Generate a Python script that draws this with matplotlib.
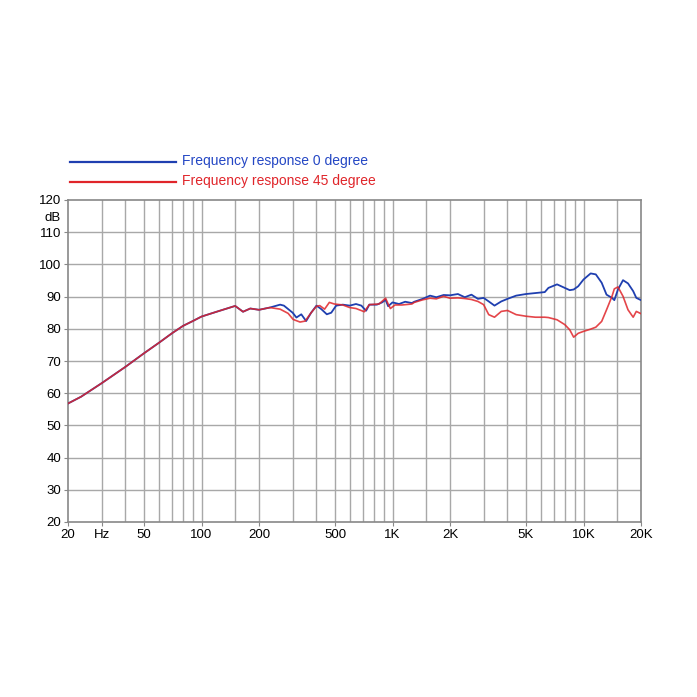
import matplotlib
matplotlib.use("Agg")
import matplotlib.pyplot as plt
from matplotlib.lines import Line2D
import numpy as np

plt.rcParams['font.family'] = ['Liberation Sans', 'DejaVu Sans']

# Shared low-frequency part (both curves identical)
freq_low = [20, 23.4, 30, 40, 50, 60, 70, 80, 90, 100, 120, 150, 165, 180, 200]
db_low = [56.8, 58.9, 63.1, 68.2, 72.4, 75.7, 78.6, 80.9, 82.4, 83.8, 85.3, 87.1, 85.3, 86.3, 85.9]

freq_0 = [228, 258, 270, 300, 314, 333, 353, 375, 400, 424, 453, 478, 507, 549, 597, 644, 687,
          727, 756, 828, 882, 920, 949, 1000, 1082, 1165, 1263, 1300, 1440, 1572, 1696, 1852,
          2000, 2200, 2390, 2590, 2800, 3000, 3190, 3420, 3710, 4000, 4440, 5000, 5600, 6270,
          6550, 7270, 7980, 8470, 8880, 9380, 10000, 10900, 11600, 12450, 13200, 14100, 14500,
          15150, 16100, 17100, 18200, 18900, 20000]
db_0 = [86.6, 87.5, 87.2, 85.0, 83.5, 84.5, 82.4, 85.0, 87.2, 86.1, 84.5, 85.0, 87.2, 87.5, 87.2,
        87.7, 87.2, 85.6, 87.5, 87.5, 88.2, 89.0, 87.0, 88.2, 87.7, 88.4, 88.0, 88.4, 89.3, 90.3,
        89.8, 90.5, 90.4, 90.8, 89.8, 90.6, 89.3, 89.6, 88.5, 87.2, 88.5, 89.3, 90.3, 90.8, 91.1,
        91.4, 92.7, 93.8, 92.7, 92.0, 92.2, 93.2, 95.3, 97.2, 96.9, 94.3, 90.6, 89.6, 88.9, 92.2,
        95.1, 94.1, 91.7, 89.6, 88.9]

freq_45 = [228, 258, 284, 302, 328, 349, 375, 400, 416, 441, 467, 496, 549, 597, 644, 712, 756,
           850, 920, 949, 975, 1030, 1120, 1263, 1300, 1440, 1572, 1696, 1852, 2000, 2200, 2390,
           2590, 2800, 3000, 3190, 3420, 3710, 4000, 4440, 5000, 5600, 6270, 6550, 7270, 7980,
           8470, 8880, 9380, 10000, 10900, 11600, 12450, 13200, 14100, 14500, 15150, 16100,
           17100, 18200, 18900, 20000]
db_45 = [86.6, 86.1, 84.8, 82.9, 82.1, 82.4, 85.0, 87.0, 87.2, 86.1, 88.2, 87.7, 87.4, 86.6, 86.3,
         85.3, 87.5, 87.7, 89.5, 87.7, 86.3, 87.4, 87.4, 87.7, 88.2, 89.0, 89.5, 89.3, 90.1, 89.5,
         89.6, 89.4, 89.1, 88.5, 87.5, 84.4, 83.6, 85.4, 85.7, 84.4, 83.9, 83.6, 83.6, 83.5, 82.8,
         81.3, 79.7, 77.4, 78.6, 79.2, 79.9, 80.5, 82.3, 85.9, 90.1, 92.4, 93.0, 90.1, 85.9, 83.6,
         85.4, 84.7]

grid_freqs = [30, 40, 50, 60, 70, 80, 90, 100, 150, 200, 300, 400, 500, 600, 700, 800, 900,
              1000, 1500, 2000, 3000, 4000, 5000, 6000, 7000, 8000, 9000, 10000, 15000]
xtick_pos = [20, 30, 50, 100, 200, 500, 1000, 2000, 5000, 10000, 20000]
xtick_labels = ['20', 'Hz', '50', '100', '200', '500', '1K', '2K', '5K', '10K', '20K']
ytick_pos = [20, 30, 40, 50, 60, 70, 80, 90, 100, 110, 120]

blue = '#1f3fb0'
red = '#e0252a'

fig = plt.figure(figsize=(6.97, 6.97), dpi=100)
ax = fig.add_axes([68/697, 175/697, 573/697, 322/697])

ax.set_xscale('log')
ax.set_xlim(20, 20000)
ax.set_ylim(20, 120)

for f in grid_freqs:
    ax.axvline(f, color='#a8a8a8', lw=1.0, zorder=1)
for y in ytick_pos[1:-1]:
    ax.axhline(y, color='#a8a8a8', lw=1.0, zorder=1)

x0 = freq_low + freq_0
y0 = db_low + db_0
x45 = freq_low + freq_45
y45 = db_low + db_45
ax.plot(x0, y0, color=blue, lw=1.3, zorder=3)
ax.plot(x45, y45, color=red, lw=1.2, alpha=0.85, zorder=4)

ax.set_xticks(xtick_pos)
ax.set_xticklabels(xtick_labels)
ax.xaxis.set_minor_locator(matplotlib.ticker.NullLocator())
ax.set_yticks(ytick_pos)
ax.set_yticklabels([str(v) for v in ytick_pos])
ax.tick_params(axis='both', length=3, color='#888888', labelsize=9.5, pad=2)

for s in ax.spines.values():
    s.set_color('#888888')
    s.set_linewidth(1.2)

ax.text(-0.026, 0.944, 'dB', transform=ax.transAxes, ha='center', va='center', fontsize=9.5)

# Legend
fig.add_artist(Line2D([70/697, 176/697], [1 - 162/697, 1 - 162/697], color=blue, lw=1.6))
fig.add_artist(Line2D([70/697, 176/697], [1 - 182/697, 1 - 182/697], color=red, lw=1.6))
fig.text(182/697, 1 - 161/697, 'Frequency response 0 degree', color='#2447c4', fontsize=10, va='center')
fig.text(182/697, 1 - 181/697, 'Frequency response 45 degree', color=red, fontsize=10, va='center')

fig.savefig('out.png', dpi=100, facecolor='white')
